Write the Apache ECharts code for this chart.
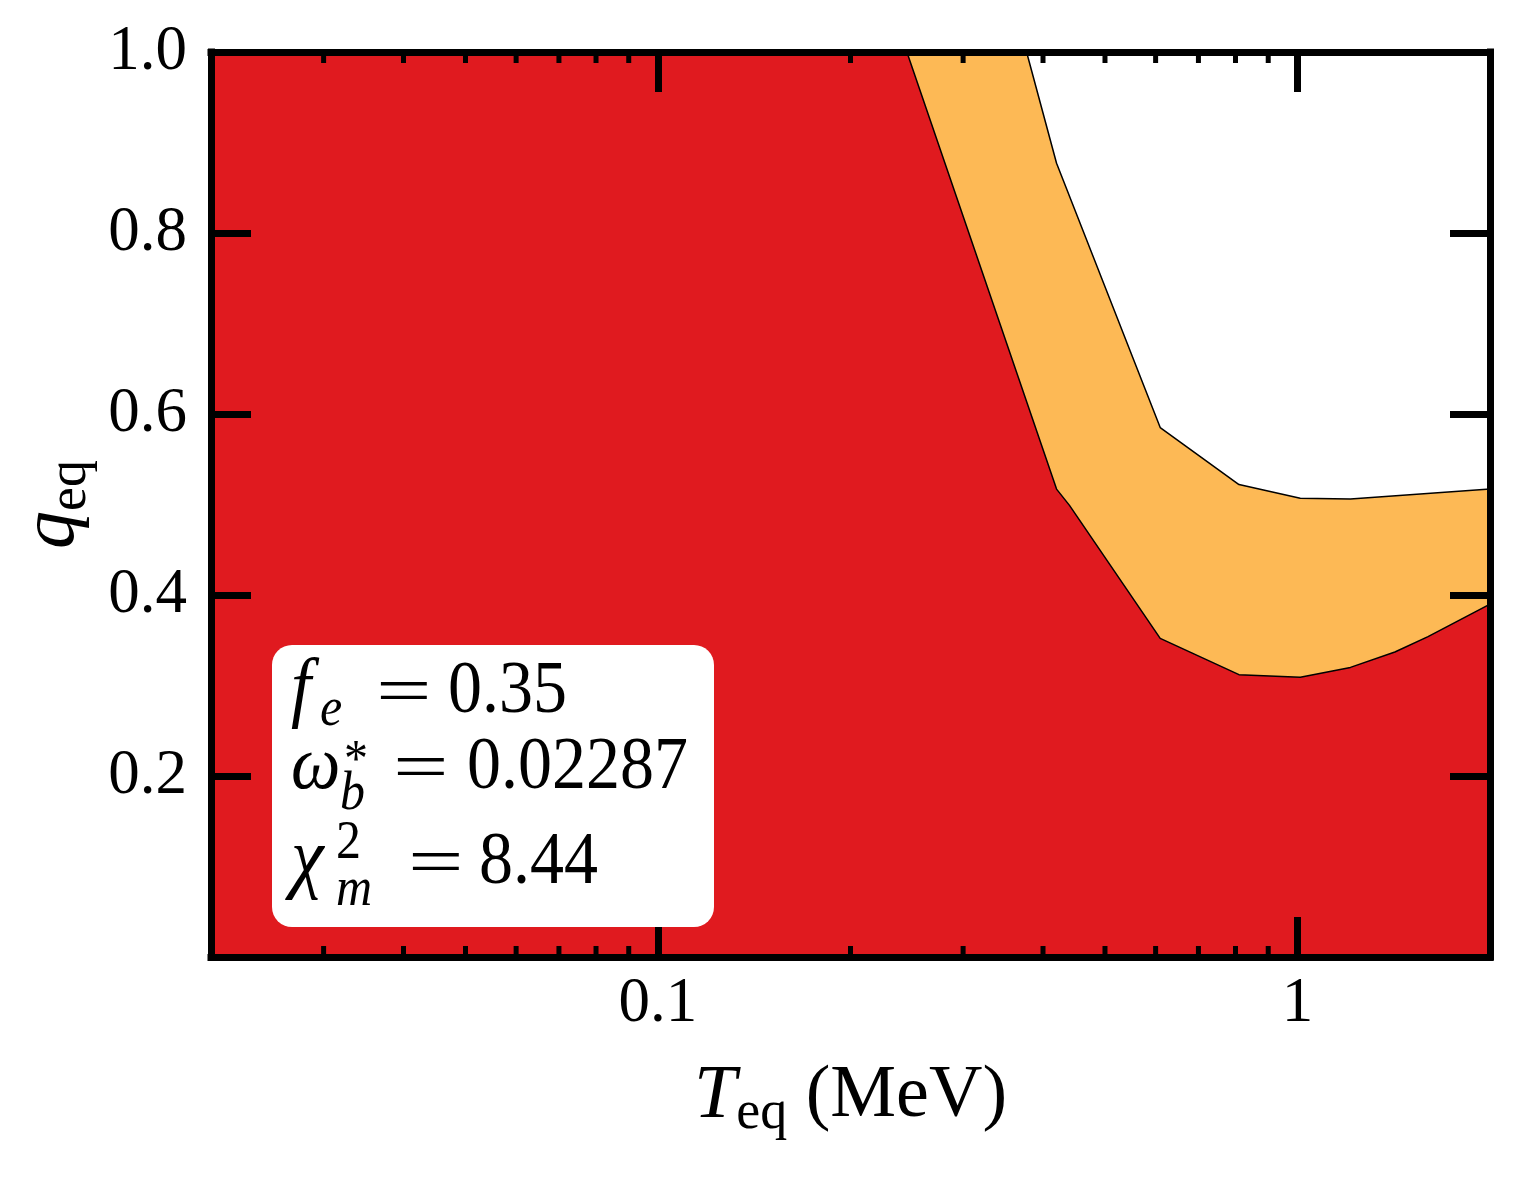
<!DOCTYPE html>
<html><head><meta charset="utf-8">
<script src="https://cdn.jsdelivr.net/npm/echarts@6/dist/echarts.min.js"></script>
<style>html,body{margin:0;padding:0;background:#fff}#c{width:1519px;height:1179px}</style>
</head><body><div id="c"></div>
<script>
// ---- data ----
const T_upper = [0.02, 0.377, 0.42, 0.61, 0.81, 1.01, 1.21, 2.0];
const q_upper = [1.0, 1.0, 0.877, 0.585, 0.522, 0.507, 0.506, 0.517];
const T_lower = [0.02, 0.245, 0.42, 0.44, 0.61, 0.81, 1.01, 1.21, 1.42, 1.6, 2.0];
const q_lower = [1.0, 1.0, 0.517, 0.499, 0.352, 0.312, 0.309, 0.32, 0.337, 0.354, 0.39];
const xTickValues = [0.1, 1];
const xTickLabels = ['0.1', '1'];
const yTickValues = [0.2, 0.4, 0.6, 0.8, 1.0];
const yTickLabels = ['0.2', '0.4', '0.6', '0.8', '1.0'];
const xMinorTicks = [0.03, 0.04, 0.05, 0.06, 0.07, 0.08, 0.09, 0.2, 0.3, 0.4, 0.5, 0.6, 0.7, 0.8, 0.9];
const annotation = { fe: '0.35', omegab: '0.02287', chi2: '8.44' };

const FONT = 'Liberation Serif';
const RED = '#e01a1f';
const ORANGE = '#fdb955';

const chart = echarts.init(document.getElementById('c'), null, { renderer: 'canvas' });

function fmt(values, labels) {
  return function (v) {
    for (let i = 0; i < values.length; i++) {
      if (Math.abs(v - values[i]) < 1e-6 * Math.max(1, values[i])) return labels[i];
    }
    return '';
  };
}
const axisLineStyle = { color: '#000', width: 7, cap: 'square' };
const majorTick = { show: true, inside: true, length: 40, lineStyle: { color: '#000', width: 7 } };
const nameRich = {
  i: { fontFamily: FONT, fontStyle: 'italic', fontSize: 76, lineHeight: 88, color: '#000', verticalAlign: 'middle' },
  s: { fontFamily: FONT, fontSize: 54, lineHeight: 54, color: '#000', verticalAlign: 'bottom' },
  n: { fontFamily: FONT, fontSize: 74, lineHeight: 88, color: '#000', verticalAlign: 'middle' }
};

function txt(text, x, baseline, size, italic, sx, sy) {
  return {
    type: 'text', z: 101, silent: true,
    x: x, y: baseline - 0.3375 * size,
    scaleX: sx || 1, scaleY: sy || 1.1,
    originX: 0, originY: 0.3375 * size,
    style: {
      text: text, fill: '#000', align: 'left', verticalAlign: 'middle',
      font: (italic ? 'italic ' : '') + size + 'px "' + FONT + '"'
    }
  };
}

const option = {
  animation: false,
  backgroundColor: '#fff',
  grid: { left: 211, top: 52, right: 29, bottom: 222 },
  xAxis: [
    {
      type: 'log', logBase: 10, min: 0.02, max: 2, position: 'bottom', z: 10,
      axisLine: { show: true, onZero: false, lineStyle: axisLineStyle },
      axisTick: majorTick,
      axisLabel: { margin: 16, fontFamily: FONT, fontSize: 63, color: '#000', formatter: fmt(xTickValues, xTickLabels), showMinLabel: false, showMaxLabel: false },
      splitLine: { show: false },
      name: '{i|T}{s|eq}{n| (MeV)}', nameLocation: 'middle', nameGap: 96,
      nameTextStyle: { rich: nameRich }
    },
    {
      type: 'log', logBase: 10, min: 0.02, max: 2, position: 'top', z: 10,
      axisLine: { show: true, onZero: false, lineStyle: axisLineStyle },
      axisTick: majorTick,
      axisLabel: { show: false },
      splitLine: { show: false }
    }
  ],
  yAxis: [
    {
      type: 'value', min: 0, max: 1, interval: 0.2, position: 'left', z: 10,
      axisLine: { show: true, onZero: false, lineStyle: axisLineStyle },
      axisTick: majorTick,
      axisLabel: { margin: 24, fontFamily: FONT, fontSize: 63, color: '#000', formatter: fmt(yTickValues, yTickLabels) },
      splitLine: { show: false },
      name: '{i|q}{s|eq}', nameLocation: 'middle', nameGap: 102,
      nameTextStyle: { rich: nameRich }
    },
    {
      type: 'value', min: 0, max: 1, interval: 0.2, position: 'right', z: 10,
      axisLine: { show: true, onZero: false, lineStyle: axisLineStyle },
      axisTick: majorTick,
      axisLabel: { show: false },
      splitLine: { show: false }
    }
  ],
  series: [
    {
      type: 'line', xAxisIndex: 0, yAxisIndex: 0, z: 2,
      data: T_upper.map((t, i) => [t, q_upper[i]]),
      symbol: 'none', silent: true,
      lineStyle: { color: '#000', width: 1.5 },
      areaStyle: { color: ORANGE, opacity: 1, origin: 'start' }
    },
    {
      type: 'line', xAxisIndex: 0, yAxisIndex: 0, z: 3,
      data: T_lower.map((t, i) => [t, q_lower[i]]),
      symbol: 'none', silent: true,
      lineStyle: { color: '#000', width: 1.5 },
      areaStyle: { color: RED, opacity: 1, origin: 'start' }
    },
    {
      type: 'custom', xAxisIndex: 0, yAxisIndex: 0, z: 6, silent: true, clip: false,
      data: xMinorTicks.map(v => [v, 0]),
      encode: { x: 0, y: 1 },
      renderItem: function (params, api) {
        const v = api.value(0);
        const b = api.coord([v, 0]);
        const t = api.coord([v, 1]);
        return {
          type: 'group', children: [
            { type: 'line', shape: { x1: b[0], y1: b[1], x2: b[0], y2: b[1] - 11 }, style: { stroke: '#000', lineWidth: 5 } },
            { type: 'line', shape: { x1: t[0], y1: t[1], x2: t[0], y2: t[1] + 11 }, style: { stroke: '#000', lineWidth: 5 } }
          ]
        };
      }
    }
  ],
  graphic: [
    { type: 'rect', z: 100, silent: true, shape: { x: 272, y: 645, width: 442, height: 282, r: 20 }, style: { fill: '#fff' } },
    txt('f', 291, 718, 72, true),
    txt('e', 320, 729, 50, true),
    txt('=', 376, 718, 68, false, 1.45, 1),
    txt(annotation.fe, 448, 718, 68, false),
    txt('\u03c9', 291, 794, 70, true),
    txt('*', 344, 780, 48, false),
    txt('b', 340, 813, 50, true),
    txt('=', 393, 794, 68, false, 1.45, 1),
    txt(annotation.omegab, 467, 794, 68, false),
    txt('\u03c7', 291, 889, 74, true),
    txt('2', 336, 862, 50, false),
    txt('m', 336, 909, 50, true),
    txt('=', 408, 889, 68, false, 1.45, 1),
    txt(annotation.chi2, 479, 889, 68, false)
  ]
};
chart.setOption(option);
</script>
</body></html>
